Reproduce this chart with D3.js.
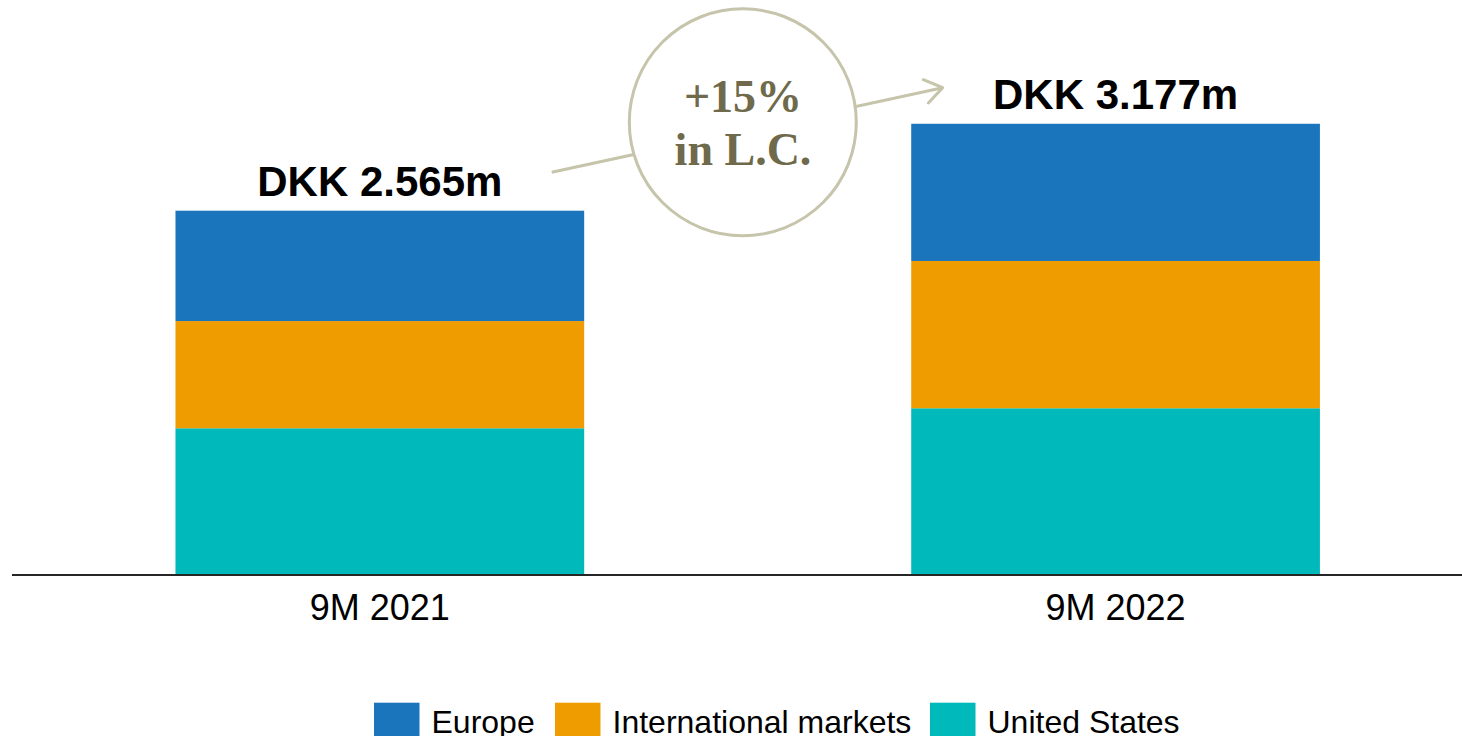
<!DOCTYPE html>
<html>
<head>
<meta charset="utf-8">
<script src="https://cdn.jsdelivr.net/npm/d3@7"></script>
<style>
  html, body { margin: 0; padding: 0; background: #fff; }
  svg { display: block; }
</style>
</head>
<body>
<svg id="chart" width="1462" height="736"></svg>
<script>
// Revenue by region, DKK million
const periods = ["9M 2021", "9M 2022"];
const regions = ["United States", "International markets", "Europe"];
const unitedStates = [1033, 1174];
const internationalMarkets = [755, 1037];
const europe = [777, 966];
const totalLabels = ["DKK 2.565m", "DKK 3.177m"];
const legendOrder = ["Europe", "International markets", "United States"];
const growthLines = ["+15%", "in L.C."];

const colors = {
  "Europe": "#1b75bc",
  "International markets": "#ef9c00",
  "United States": "#00b9bb"
};

const rows = periods.map((p, i) => ({
  period: p,
  "United States": unitedStates[i],
  "International markets": internationalMarkets[i],
  "Europe": europe[i],
  total: unitedStates[i] + internationalMarkets[i] + europe[i],
  label: totalLabels[i]
}));

const svg = d3.select("#chart");
const baseY = 575;

const x = d3.scaleBand()
  .domain(periods)
  .range([12, 1483.4])
  .paddingInner(0.4445)
  .paddingOuter(0.2222);

const y = d3.scaleLinear()
  .domain([0, 2565])
  .range([baseY, 210.7]);

const stack = d3.stack().keys(regions);
const layers = stack(rows);

// stacked bars
svg.append("g")
  .selectAll("g")
  .data(layers)
  .join("g")
  .attr("fill", d => colors[d.key])
  .selectAll("rect")
  .data(d => d)
  .join("rect")
  .attr("x", d => x(d.data.period))
  .attr("width", x.bandwidth())
  .attr("y", d => y(d[1]))
  .attr("height", d => y(d[0]) - y(d[1]));

// total labels above bars
svg.append("g")
  .selectAll("text")
  .data(rows)
  .join("text")
  .attr("x", d => x(d.period) + x.bandwidth() / 2)
  .attr("y", d => y(d.total) - 14.5)
  .attr("text-anchor", "middle")
  .attr("font-family", "Liberation Sans, Arial, sans-serif")
  .attr("font-weight", "bold")
  .attr("font-size", 42)
  .attr("fill", "#000")
  .text(d => d.label);

// baseline axis
const axis = svg.append("g")
  .attr("transform", `translate(0,${baseY})`)
  .call(d3.axisBottom(x).tickSize(0).tickPadding(0));
axis.select(".domain").remove();
axis.selectAll("text")
  .attr("dy", null)
  .attr("y", 45)
  .attr("font-family", "Liberation Sans, Arial, sans-serif")
  .attr("font-size", 36)
  .attr("fill", "#000");
svg.append("line")
  .attr("x1", 12).attr("x2", 1462)
  .attr("y1", baseY).attr("y2", baseY)
  .attr("stroke", "#262626")
  .attr("stroke-width", 2);

// growth arrow with circled callout
const ann = svg.append("g");
const arrowStart = [551.7, 172.3];
const arrowEnd = [942.7, 87.7];
ann.append("line")
  .attr("x1", arrowStart[0]).attr("y1", arrowStart[1])
  .attr("x2", arrowEnd[0]).attr("y2", arrowEnd[1])
  .attr("stroke", "#c6c4ab")
  .attr("stroke-width", 3);
const ang = Math.atan2(arrowEnd[1] - arrowStart[1], arrowEnd[0] - arrowStart[0]);
const headLen = 21, headAng = Math.PI / 5.2;
const headPath = d3.path();
headPath.moveTo(arrowEnd[0] - headLen * Math.cos(ang - headAng), arrowEnd[1] - headLen * Math.sin(ang - headAng));
headPath.lineTo(arrowEnd[0], arrowEnd[1]);
headPath.lineTo(arrowEnd[0] - headLen * Math.cos(ang + headAng), arrowEnd[1] - headLen * Math.sin(ang + headAng));
ann.append("path")
  .attr("d", headPath.toString())
  .attr("fill", "none")
  .attr("stroke", "#c6c4ab")
  .attr("stroke-width", 3)
  .attr("stroke-linecap", "round")
  .attr("stroke-linejoin", "round");
ann.append("circle")
  .attr("cx", 742.8).attr("cy", 122.3).attr("r", 113.5)
  .attr("fill", "#fff")
  .attr("stroke", "#c6c4ab")
  .attr("stroke-width", 3);
ann.selectAll("text")
  .data(growthLines)
  .join("text")
  .attr("x", 743)
  .attr("y", (d, i) => 111.7 + i * 53.3)
  .attr("text-anchor", "middle")
  .attr("font-family", "Liberation Serif, 'DejaVu Serif', serif")
  .attr("font-weight", "bold")
  .attr("font-size", 46)
  .attr("fill", "#6f6a4b")
  .text(d => d);

// legend
const legendX = [374, 555, 930];
const legend = svg.append("g");
const items = legend.selectAll("g")
  .data(legendOrder)
  .join("g")
  .attr("transform", (d, i) => `translate(${legendX[i]},0)`);
items.append("rect")
  .attr("x", 0).attr("y", 702.7)
  .attr("width", 45.5).attr("height", 40)
  .attr("fill", d => colors[d]);
items.append("text")
  .attr("x", 57.5).attr("y", 733.3)
  .attr("font-family", "Liberation Sans, Arial, sans-serif")
  .attr("font-size", 32)
  .attr("fill", "#000")
  .text(d => d);
</script>
</body>
</html>
